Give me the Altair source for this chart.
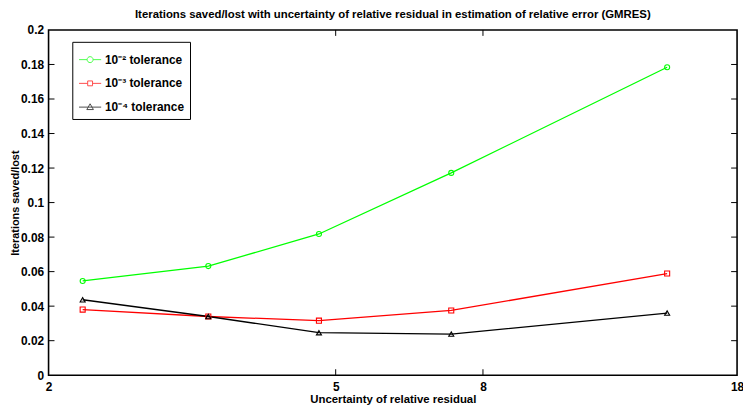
import altair as alt
import pandas as pd

# ---- data ----
x_vals = [2.23, 3.33, 4.74, 7.23, 14.4]
tol_1e2 = [0.0546, 0.0632, 0.0818, 0.1172, 0.1784]
tol_1e3 = [0.0380, 0.0340, 0.0316, 0.0375, 0.0589]
tol_1e4 = [0.0437, 0.0340, 0.0246, 0.0238, 0.0360]

series_names = ["10\u207b\u00b2 tolerance", "10\u207b\u00b3 tolerance", "10\u207b\u2074 tolerance"]
series_colors = ["#00ff00", "#ff0000", "#000000"]
series_shapes = ["circle", "square", "triangle-up"]
legend_shapes = [
    "M-1,0H-0.27M0.27,0H1M0.27,0A0.27,0.27 0 1 1 -0.27,0A0.27,0.27 0 1 1 0.27,0",
    "M-1,0H-0.22M0.22,0H1M-0.22,-0.22H0.22V0.22H-0.22Z",
    "M-1,0H1M0,-0.3L0.3,0.22L-0.3,0.22Z",
]

x_ticks = [2, 5, 8, 18]
x_inner_ticks = [5, 8]
y_ticks = [0, 0.02, 0.04, 0.06, 0.08, 0.1, 0.12, 0.14, 0.16, 0.18, 0.2]
y_inner_ticks = [0.02, 0.04, 0.06, 0.08, 0.1, 0.12, 0.14, 0.16, 0.18]

rows = []
for name, vals in zip(series_names, [tol_1e2, tol_1e3, tol_1e4]):
    for xv, yv in zip(x_vals, vals):
        rows.append({"x": xv, "y": yv, "series": name})
df = pd.DataFrame(rows)

W, H = 696, 349
FONT = "Liberation Sans"

xscale = alt.Scale(type="log", domain=[2, 18], nice=False)
yscale = alt.Scale(domain=[0, 0.2], nice=False, zero=False)

x_axis = alt.Axis(values=x_ticks, format="~g", title="Uncertainty of relative residual",
                  ticks=False, domain=False, grid=False, labelPadding=6,
                  titlePadding=2, labelFlush=False, labelOverlap=False)
y_axis = alt.Axis(values=y_ticks, format="~g", title="Iterations saved/lost",
                  ticks=False, domain=False, grid=False, labelPadding=5,
                  titlePadding=0, titleFontSize=11, labelFlush=False, labelOverlap=False)
x_enc = alt.X("x:Q", scale=xscale, axis=x_axis)
y_enc = alt.Y("y:Q", scale=yscale, axis=y_axis)
color_scale = alt.Scale(domain=series_names, range=series_colors)
color_enc = alt.Color("series:N", scale=color_scale, legend=None)

stroke_expr = "[" + ",".join("'%s'" % c for c in series_colors) + "][datum.index]"

leg = alt.Legend(orient="none", legendX=24, legendY=12, title=None,
                 strokeColor="black", fillColor="white", padding=6,
                 labelFont=FONT, labelFontSize=12, labelFontWeight="bold", labelColor="black",
                 symbolSize=500, symbolStrokeWidth=1, labelOffset=3, rowPadding=6,
                 symbolFillColor="transparent",
                 symbolStrokeColor={"expr": stroke_expr})

base = alt.Chart(df)

lines = base.mark_line(strokeWidth=1.3).encode(x=x_enc, y=y_enc, color=color_enc)

points = base.mark_point(filled=False, size=26, strokeWidth=1.1, opacity=1).encode(
    x=x_enc, y=y_enc, color=color_enc,
    shape=alt.Shape("series:N", scale=alt.Scale(domain=series_names, range=series_shapes), legend=None),
)

legend_layer = base.transform_filter("false").mark_point(filled=False, strokeWidth=1).encode(
    x=x_enc, y=y_enc,
    shape=alt.Shape("series:N", scale=alt.Scale(domain=series_names, range=legend_shapes), legend=leg),
)

ydf = pd.DataFrame({"y": y_inner_ticks})
xdf = pd.DataFrame({"x": x_inner_ticks})
TL = 6
ytick_l = alt.Chart(ydf).mark_rule(color="black", strokeWidth=1).encode(
    y=y_enc, x=alt.value(0), x2=alt.value(TL))
ytick_r = alt.Chart(ydf).mark_rule(color="black", strokeWidth=1).encode(
    y=y_enc, x=alt.value(W), x2=alt.value(W - TL))
xtick_b = alt.Chart(xdf).mark_rule(color="black", strokeWidth=1).encode(
    x=x_enc, y=alt.value(H), y2=alt.value(H - TL))
xtick_t = alt.Chart(xdf).mark_rule(color="black", strokeWidth=1).encode(
    x=x_enc, y=alt.value(0), y2=alt.value(TL))

chart = alt.layer(lines, points, ytick_l, ytick_r, xtick_b, xtick_t, legend_layer).resolve_scale(
    shape="independent"
).properties(
    width=W, height=H,
    padding={"left": 41, "top": 20, "right": 6, "bottom": 34},
    autosize=alt.AutoSizeParams(type="none"),
    title=alt.Title("Iterations saved/lost with uncertainty of relative residual in estimation of relative error (GMRES)",
                    font=FONT, fontSize=11.5, fontWeight="bold", color="black", anchor="middle", offset=4),
).configure_view(
    stroke="black", strokeWidth=1.6
).configure_axis(
    labelFont=FONT, labelFontSize=12, labelFontWeight="bold", labelColor="black",
    titleFont=FONT, titleFontSize=11.5, titleFontWeight="bold", titleColor="black",
)

chart.save("out.html", embed_options={"renderer": "svg", "actions": False})
